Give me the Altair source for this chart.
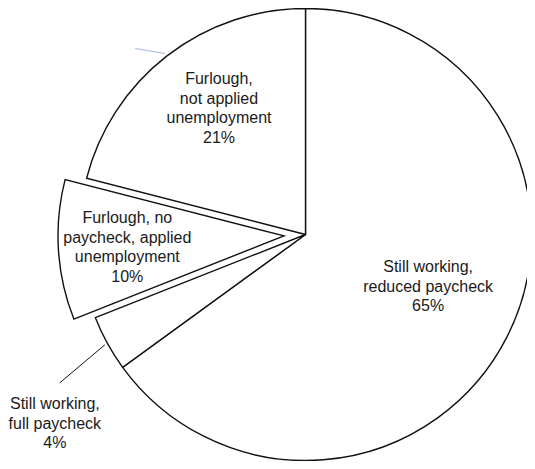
import math
import altair as alt
import pandas as pd

# ---- data ----
categories = [
    "Still working, reduced paycheck",
    "Still working, full paycheck",
    "Furlough, no paycheck, applied unemployment",
    "Furlough, not applied unemployment",
]
labels = [
    "Still working,\nreduced paycheck\n65%",
    "Still working,\nfull paycheck\n4%",
    "Furlough, no\npaycheck, applied\nunemployment\n10%",
    "Furlough,\nnot applied\nunemployment\n21%",
]
values = [65, 4, 10, 21]
exploded = [False, False, True, False]

df = pd.DataFrame({
    "category": categories,
    "label": labels,
    "value": values,
    "idx": list(range(len(values))),
    "exploded": exploded,
})

# ---- layout / style ----
CX, CY = 297.5, 226.5   # pie centre inside the canvas
R = 226.0                # pie radius
EX, EY = -21.5, 1.4      # explode offset of the pulled-out slice
FONT = "Liberation Sans"
STROKE = "#111111"
LH = 19.5

theta_scale = alt.Scale(domain=[0, 1], range=[0, 2 * math.pi])

base = (
    alt.Chart(df)
    .transform_window(cum="sum(value)", sort=[alt.SortField("idx")])
    .transform_joinaggregate(total="sum(value)")
    .transform_calculate(
        start="(datum.cum - datum.value) / datum.total",
        end="datum.cum / datum.total",
        mid="(datum.cum - datum.value / 2) / datum.total",
    )
)

arc_enc = dict(
    theta=alt.Theta("start:Q", scale=theta_scale),
    theta2="end:Q",
)

arcs = base.transform_filter("!datum.exploded").mark_arc(
    x=CX, y=CY, radius=R, fill="white", stroke=STROKE, strokeWidth=1.4
).encode(**arc_enc)

arcs_ex = base.transform_filter("datum.exploded").mark_arc(
    x=CX + EX, y=CY + EY, radius=R, fill="white", stroke=STROKE, strokeWidth=1.4
).encode(**arc_enc)

text_style = dict(font=FONT, fontSize=16, lineBreak="\n", lineHeight=LH,
                  align="center", baseline="middle", color="#1a1a1a")


def label_layer(i, radius, x, y, dx=0, dy=0):
    n_lines = labels[i].count("\n") + 1
    return base.transform_filter(f"datum.idx == {i}").mark_text(
        x=x, y=y, radius=radius, dx=dx, dy=dy - (n_lines - 1) * LH / 2, **text_style
    ).encode(theta=alt.Theta("mid:Q", scale=theta_scale), text="label:N")


t0 = label_layer(0, 132, CX, CY, dx=5, dy=-7.5)
t1 = label_layer(1, 290, CX, CY, dx=3.5, dy=49.5)
t2 = label_layer(2, 158, CX + EX, CY + EY, dx=1, dy=1.5)
t3 = label_layer(3, 155, CX, CY, dx=8.5, dy=-3.5)


def leader(i, vx, vy, color, width):
    return base.transform_filter(f"datum.idx == {i}").transform_calculate(
        x0=f"{CX} + {R + 3} * sin(datum.mid * 2 * PI)",
        y0=f"{CY} - {R + 3} * cos(datum.mid * 2 * PI)",
    ).transform_calculate(
        x1=f"datum.x0 + ({vx})",
        y1=f"datum.y0 + ({vy})",
    ).mark_rule(stroke=color, strokeWidth=width).encode(
        x=alt.X("x0:Q", scale=None, axis=None),
        y=alt.Y("y0:Q", scale=None, axis=None),
        x2="x1:Q",
        y2="y1:Q",
    )


l1 = leader(1, -45, 38, STROKE, 1)
l3 = leader(3, -30, -5, "#a3b8e6", 1)

chart = (
    alt.layer(arcs, arcs_ex, l1, l3, t0, t1, t2, t3)
    .properties(width=519, height=453, padding=0, autosize=alt.AutoSizeParams(type="none"))
    .configure_view(stroke=None)
)

chart.save("out.html", embed_options={"renderer": "svg", "actions": False})
